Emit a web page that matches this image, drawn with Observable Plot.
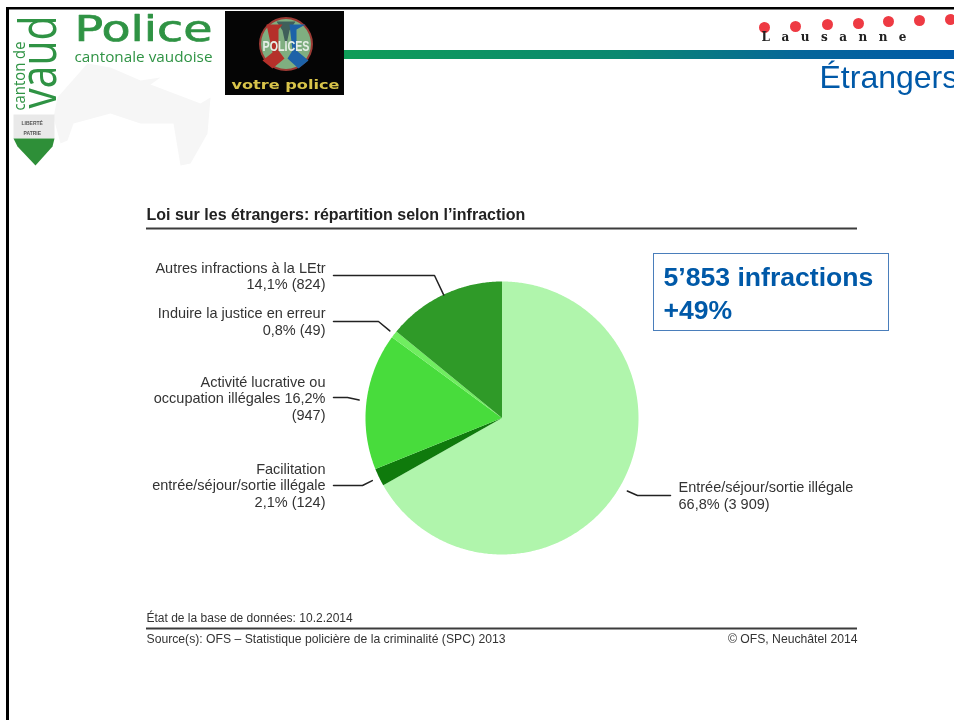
<!DOCTYPE html>
<html lang="fr">
<head>
<meta charset="utf-8">
<title>Loi sur les étrangers: répartition selon l'infraction</title>
<script src="https://cdn.jsdelivr.net/npm/d3@7"></script>
<script src="https://cdn.jsdelivr.net/npm/@observablehq/plot@0.6"></script>
<style>
html,body{margin:0;padding:0;background:#fff;overflow:hidden}
svg{display:block;filter:blur(0.3px)}
</style>
</head>
<body>
<div id="chart"></div>
<script>
// ---- Chart data ----
const categories = [
  "Entrée/séjour/sortie illégale",
  "Facilitation entrée/séjour/sortie illégale",
  "Activité lucrative ou occupation illégales",
  "Induire la justice en erreur",
  "Autres infractions à la LEtr"
];
const counts = [3909, 124, 947, 49, 824];
const labels = [
  "Entrée/séjour/sortie illégale\n66,8% (3 909)",
  "Facilitation\nentrée/séjour/sortie illégale\n2,1% (124)",
  "Activité lucrative ou\noccupation illégales 16,2%\n(947)",
  "Induire la justice en erreur\n0,8% (49)",
  "Autres infractions à la LEtr\n14,1% (824)"
];
const sliceColors = ["#b0f5ac", "#0f7a0c", "#48dc3c", "#70ee60", "#2f9a28"];

const chartTitle = "Loi sur les étrangers: répartition selon l’infraction";
const dbNote = "État de la base de données: 10.2.2014";
const sourceNote = "Source(s): OFS – Statistique policière de la criminalité (SPC) 2013";
const copyNote = "© OFS, Neuchâtel 2014";
const calloutLines = ["5’853 infractions", "+49%"];

// ---- Layout (page pixels) ----
const pie = {cx: 501.5, cy: 417.5, r: 136.5};
const total = d3.sum(counts);
const BLUE = "#0059a8", INK = "#333333", LOGO = "#2f9344";

let running = 0;
const slices = categories.map((name, i) => {
  const a0 = running / total * 2 * Math.PI;
  running += counts[i];
  const a1 = running / total * 2 * Math.PI;
  return {name, a0, a1, mid: (a0 + a1) / 2};
});
const polar = (a, r) => ({x: pie.cx + r * Math.sin(a), y: pie.cy - r * Math.cos(a)});
const wedges = slices.flatMap(s => {
  const n = Math.max(2, Math.ceil((s.a1 - s.a0) / 0.01));
  const arc = d3.range(n + 1).map(k => ({name: s.name, ...polar(s.a0 + (s.a1 - s.a0) * k / n, pie.r)}));
  return [{name: s.name, x: pie.cx, y: pie.cy}, ...arc];
});

// label: anchor, baseline of last line; leader: how far the tip sits from the centre, then elbow + end
const labelLayout = [
  {dx: 678, dy: 508, anchor: "start", reach: 145, elbow: [637, 495], end: [670, 495]},
  {dx: 325, dy: 506, anchor: "end",   reach: 144, elbow: [362, 485], end: [333, 485]},
  {dx: 325, dy: 419, anchor: "end",   reach: 144, elbow: [347, 397], end: [333, 397]},
  {dx: 325, dy: 334, anchor: "end",   reach: 142, elbow: [378, 321], end: [333, 321]},
  {dx: 325, dy: 288.5, anchor: "end", reach: 136, elbow: [434, 275], end: [333, 275]}
];
const leaders = slices.flatMap((s, i) => {
  const l = labelLayout[i];
  return [
    {name: s.name, ...polar(s.mid, l.reach)},
    {name: s.name, x: l.elbow[0], y: l.elbow[1]},
    {name: s.name, x: l.end[0], y: l.end[1]}
  ];
});

// Text helper: placed from the frame corner; optional exact width
function note(text, dx, dy, o = {}) {
  const {textLength, lengthAdjust = "spacingAndGlyphs", ...rest} = o;
  return Plot.text([text], {
    text: d => d, frameAnchor: "top-left", lineAnchor: "bottom",
    dx, dy, textAnchor: "start", fontFamily: "Liberation Sans", fill: INK, ...rest,
    render: textLength ? (i, s, v, d, c, next) => {
      const g = next(i, s, v, d, c);
      g.querySelectorAll("text").forEach(t => {
        t.setAttribute("textLength", textLength);
        t.setAttribute("lengthAdjust", lengthAdjust);
      });
      return g;
    } : undefined
  });
}
const shape = (pts, fill, extra = {}) =>
  Plot.line(pts.map(([x, y]) => ({x, y})), {x: "x", y: "y", fill, stroke: "none", ...extra});
const box = (x1, y1, x2, y2, fill, extra = {}) =>
  Plot.rect([0], {x1: () => x1, x2: () => x2, y1: () => y1, y2: () => y2, fill, ...extra});

const gradientDefs = () => {
  const defs = d3.create("svg:defs");
  const g = defs.append("linearGradient").attr("id", "bar").attr("x1", "0").attr("x2", "1").attr("y1", "0").attr("y2", "0");
  g.append("stop").attr("offset", "0").attr("stop-color", "#0f9d58");
  g.append("stop").attr("offset", "0.45").attr("stop-color", "#0a8870");
  g.append("stop").attr("offset", "0.75").attr("stop-color", "#06669a");
  g.append("stop").attr("offset", "1").attr("stop-color", "#0059a8");
  return defs.node();
};

const lausanneDots = [[764,27],[795,26],[827,24],[858,23],[888,21],[919,20],[950,19]];

const marks = [
  gradientDefs,
  // canton map watermark
  shape([[57,97],[87,63],[110,67],[140,80],[160,77],[150,84],[200,103],[210,97],[207,133],[190,163],[180,165],[173,123],[140,123],[110,113],[73,123],[67,140],[60,143],[53,117]], "#f6f6f6"),
  // page frame
  box(6, 7, 954, 9.5, "#000"),
  box(6, 7, 9, 720, "#000"),
  // Vaud logo
  note("vaud", 55, 108, {fontFamily: "Open Sans", fontSize: 52, rotate: -90, fill: LOGO, textLength: 93}),
  note("canton de", 24, 110, {fontFamily: "Open Sans", fontSize: 16, rotate: -90, fill: LOGO, textLength: 69}),
  shape([[13,114],[54,114],[54,138],[13,138]], "#e9e9e9"),
  shape([[13,138],[54,138],[52,146],[35,165],[17,146]], "#2e8f38"),
  note("LIBERTÉ", 21, 124, {fontSize: 5, fill: "#555", fontWeight: "bold"}),
  note("PATRIE", 23, 134, {fontSize: 5, fill: "#555", fontWeight: "bold"}),
  note("Police", 74, 40, {fontFamily: "DejaVu Sans", fontSize: 36, fill: LOGO, stroke: LOGO, strokeWidth: 0.7, textLength: 138}),
  note("cantonale vaudoise", 74, 61, {fontFamily: "Open Sans", fontSize: 15, fill: LOGO, textLength: 138}),
  // "Polices - votre police" badge
  box(225, 11, 344, 95, "#050505"),
  Plot.dot([0], {x: () => 285.5, y: () => 43.5, r: 27, fill: "#9c3a34"}),
  Plot.dot([0], {x: () => 285.5, y: () => 43.5, r: 25, fill: "#7fae80"}),
  shape([[276,21],[295,21],[289,30],[285.5,46],[282,30]], "#3f5f5a"),
  shape([[266,24],[282,24],[278,29],[278,50],[284,58],[272,68],[262,60],[272,52]], "#b5302a"),
  shape([[289,24],[305,24],[296,29],[296,50],[308,60],[298,68],[287,58],[292,50]], "#1d62a8"),
  note("POLICES", 262, 50, {fontFamily: "Liberation Sans", fontSize: 15, fontWeight: "bold", fill: "#e6efe6", textLength: 47}),
  note("votre police", 231, 88, {fontFamily: "DejaVu Sans", fontSize: 12, fontWeight: "bold", fill: "#d9c44a", textLength: 108}),
  // header band
  box(344, 50, 954, 59, "url(#bar)"),
  Plot.dot(lausanneDots, {x: d => d[0], y: d => d[1], r: 5.5, fill: "#ee3a43"}),
  note("Lausanne", 761, 40, {fontFamily: "DejaVu Serif", fontSize: 12, fontWeight: "bold", fill: "#222", textLength: 145, lengthAdjust: "spacing"}),
  note("Étrangers", 819, 87, {fontSize: 32, fill: BLUE}),
  // chart header
  note(chartTitle, 146, 219, {fontSize: 16, fontWeight: "bold", fill: "#222"}),
  box(146, 227.5, 857, 229.5, "#3c3c3c"),
  // pie
  Plot.line(wedges, {x: "x", y: "y", z: "name", fill: "name", stroke: "none"}),
  Plot.line(leaders, {x: "x", y: "y", z: "name", stroke: "#222", strokeWidth: 1.5}),
  ...labels.map((t, i) => note(t, labelLayout[i].dx, labelLayout[i].dy, {
    fontSize: 14.5, lineHeight: 1.125, textAnchor: labelLayout[i].anchor
  })),
  // call-out
  box(653.5, 253.5, 888.5, 330.5, "white", {stroke: "#4a7ebb", strokeWidth: 1}),
  note(calloutLines[0], 663, 285, {fontSize: 26.6, fontWeight: "bold", fill: BLUE}),
  note(calloutLines[1], 663, 318, {fontSize: 26.6, fontWeight: "bold", fill: BLUE}),
  // footer
  note(dbNote, 146, 621, {fontSize: 12}),
  box(146, 627.5, 857, 629.5, "#3c3c3c"),
  note(sourceNote, 146, 642, {fontSize: 12.2}),
  note(copyNote, 857, 642, {fontSize: 12.2, textAnchor: "end"})
];

const chart = Plot.plot({
  width: 954, height: 720,
  margin: 0,
  style: {background: "#fff"},
  x: {axis: null, domain: [0, 954], range: [0, 954]},
  y: {axis: null, domain: [0, 720], range: [0, 720]},
  color: {domain: categories, range: sliceColors},
  marks
});
document.getElementById("chart").append(chart);
</script>
</body>
</html>
